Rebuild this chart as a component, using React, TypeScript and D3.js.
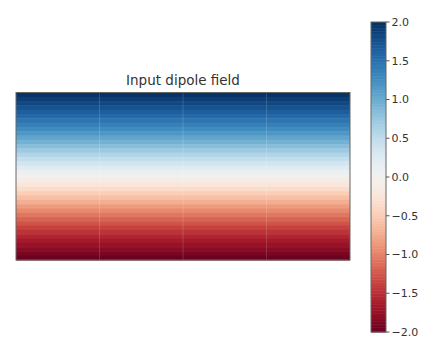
import React from "react";
import * as d3 from "d3";

const W = 431;
const H = 339;

// row values of the dipole field, top to bottom
const rowValues = [
  1.97, 1.9, 1.82, 1.74, 1.65, 1.56, 1.47, 1.37, 1.27, 1.17, 1.06, 0.95,
  0.84, 0.72, 0.6, 0.48, 0.36, 0.24, 0.12, 0.0, -0.12, -0.24, -0.36, -0.48,
  -0.6, -0.72, -0.84, -0.95, -1.06, -1.17, -1.27, -1.37, -1.47, -1.56, -1.65,
  -1.74, -1.82, -1.9, -1.97,
];
const colCount = 4;
const cbTicks = [-2.0, -1.5, -1.0, -0.5, 0.0, 0.5, 1.0, 1.5, 2.0];
const title = "Input dipole field";

const plot = { x0: 16, x1: 350, y0: 92.5, y1: 260 };
const cb = { x0: 371, x1: 386, y0: 22, y1: 332 };

const color = (v: number) => d3.interpolateRdBu((v + 2) / 4);
const fmt = (v: number) => v.toFixed(1).replace("-", "\u2212");

export default function App() {
  const yRow = d3
    .scaleBand<number>()
    .domain(d3.range(rowValues.length))
    .range([plot.y0, plot.y1]);
  const xCol = d3
    .scaleLinear()
    .domain([0, colCount])
    .range([plot.x0, plot.x1]);
  const cbY = d3.scaleLinear().domain([-2, 2]).range([cb.y1, cb.y0]);
  const cbSteps = d3.range(0, 200).map((i) => -2 + (i + 0.5) * (4 / 200));

  return (
    <svg
      width={W}
      height={H}
      style={{ position: "absolute", left: 0, top: 0, background: "#fff" }}
      fontFamily="DejaVu Sans, sans-serif"
    >
      {rowValues.map((v, i) => (
        <rect
          key={i}
          x={plot.x0}
          y={yRow(i)!}
          width={plot.x1 - plot.x0}
          height={yRow.bandwidth() + 0.5}
          fill={color(v)}
        />
      ))}
      {d3.range(1, colCount).map((c) => (
        <line
          key={c}
          x1={xCol(c)}
          x2={xCol(c)}
          y1={plot.y0}
          y2={plot.y1}
          stroke="#fff"
          strokeOpacity={0.15}
          strokeWidth={1}
        />
      ))}
      <rect
        x={plot.x0}
        y={plot.y0}
        width={plot.x1 - plot.x0}
        height={plot.y1 - plot.y0}
        fill="none"
        stroke="#666"
        strokeWidth={1}
      />
      <text
        x={(plot.x0 + plot.x1) / 2}
        y={85}
        textAnchor="middle"
        fontSize={13.5}
        fill="#333"
      >
        {title}
      </text>

      {cbSteps.map((v, i) => (
        <rect
          key={i}
          x={cb.x0}
          y={cbY(v + 0.01)}
          width={cb.x1 - cb.x0}
          height={cbY(v - 0.01) - cbY(v + 0.01) + 0.5}
          fill={color(v)}
        />
      ))}
      <rect
        x={cb.x0}
        y={cb.y0}
        width={cb.x1 - cb.x0}
        height={cb.y1 - cb.y0}
        fill="none"
        stroke="#666"
        strokeWidth={1}
      />
      {cbTicks.map((t) => (
        <g key={t} transform={`translate(${cb.x1},${cbY(t)})`}>
          <line x1={0} x2={3.5} stroke="#555" />
          <text x={5.5} dy="0.35em" fontSize={11} fill="#333">
            {fmt(t)}
          </text>
        </g>
      ))}
    </svg>
  );
}
